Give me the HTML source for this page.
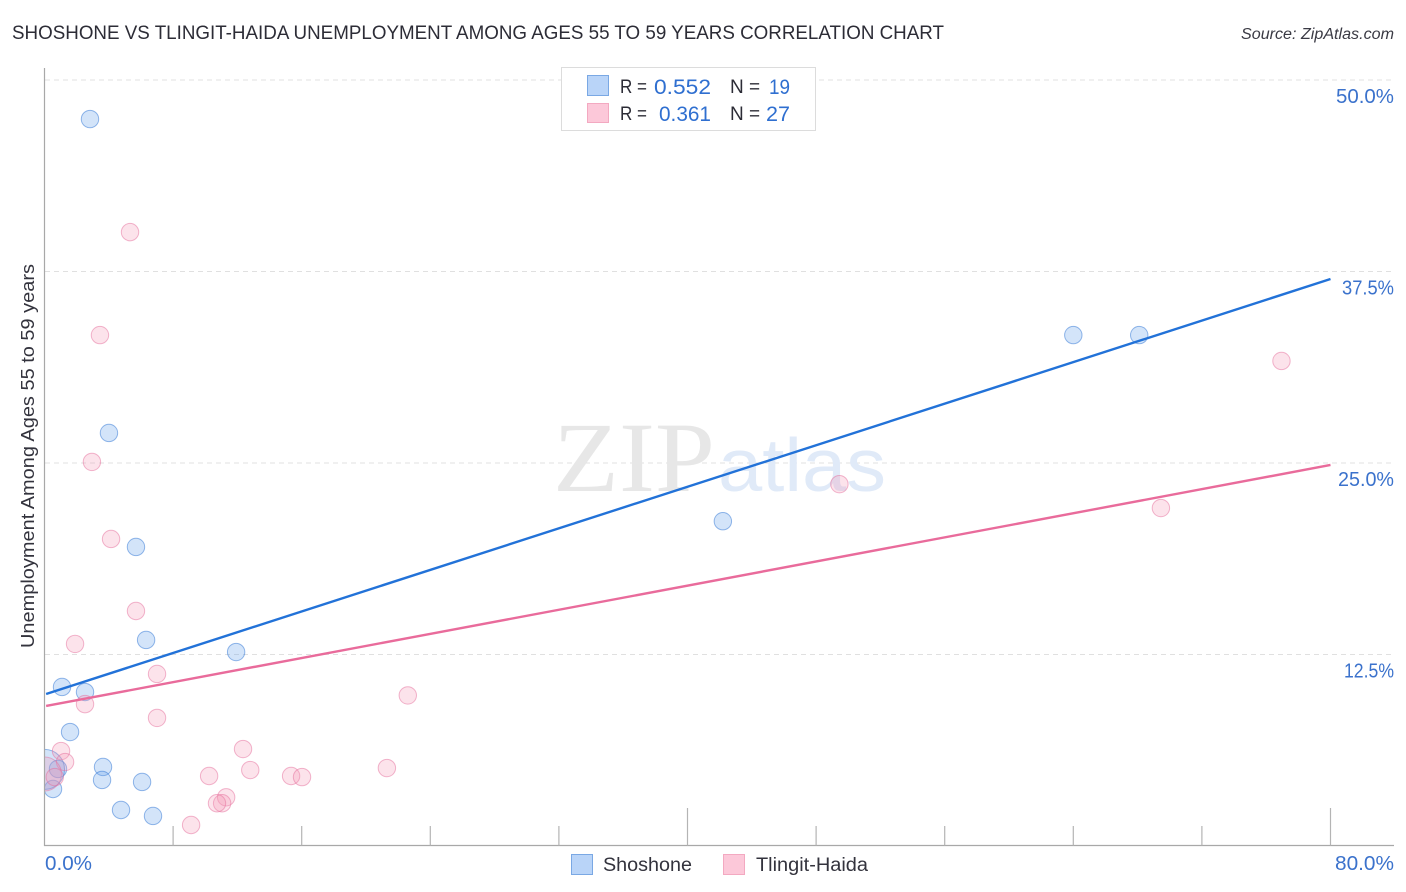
<!DOCTYPE html>
<html lang="en">
<head>
<meta charset="utf-8">
<title>Shoshone vs Tlingit-Haida Unemployment Correlation Chart</title>
<style>
html,body{margin:0;padding:0;background:#fff;}
#chart{display:block;width:1406px;height:892px;font-family:"Liberation Sans",sans-serif;}
</style>
</head>
<body>
<svg id="chart" xmlns="http://www.w3.org/2000/svg" width="1406" height="892" viewBox="0 0 1406 892">
  <rect width="1406" height="892" fill="#fff"/>
  <text x="12" y="39" font-size="19" fill="#2c2c36" textLength="932" lengthAdjust="spacingAndGlyphs">SHOSHONE VS TLINGIT-HAIDA UNEMPLOYMENT AMONG AGES 55 TO 59 YEARS CORRELATION CHART</text>
  <text x="1241" y="39" font-size="15.5" font-style="italic" fill="#3a3a44" textLength="153" lengthAdjust="spacingAndGlyphs">Source: ZipAtlas.com</text>
  <g id="grid"></g>
  <g>
    <text x="553" y="491" font-family="'Liberation Serif',serif" font-size="100" fill="#e7e7e7" textLength="162" lengthAdjust="spacingAndGlyphs">ZIP</text>
    <text x="718" y="491" font-family="'Liberation Sans',sans-serif" font-size="75" fill="#e0eaf8" textLength="168" lengthAdjust="spacingAndGlyphs">atlas</text>
  </g>
  <svg id="points" x="45" y="60" width="1349" height="785" viewBox="45 60 1349 785" overflow="hidden"></svg>
  <g id="lines"></g>
  <g id="axes"></g>
  <text transform="translate(34 456) rotate(-90)" font-size="18.5" fill="#33333d" text-anchor="middle" textLength="384" lengthAdjust="spacingAndGlyphs">Unemployment Among Ages 55 to 59 years</text>

  <g>
    <rect x="561.5" y="67.5" width="254" height="63" fill="#fff" stroke="#dcdcdc"/>
    <rect x="587.5" y="75.5" width="21" height="20" fill="#b9d4f8" stroke="#7aa8e4"/>
    <rect x="587.5" y="103.5" width="21" height="19" fill="#fcc8d9" stroke="#f3a9c1"/>
    <text x="620" y="93" font-size="19" fill="#2c2c36" textLength="27" lengthAdjust="spacingAndGlyphs">R =</text>
    <text x="654" y="94" font-size="21" fill="#2f6fd0" textLength="57" lengthAdjust="spacingAndGlyphs">0.552</text>
    <text x="730" y="93" font-size="19" fill="#2c2c36">N =</text>
    <text x="769" y="94" font-size="21" fill="#2f6fd0" textLength="21" lengthAdjust="spacingAndGlyphs">19</text>
    <text x="620" y="120" font-size="19" fill="#2c2c36" textLength="27" lengthAdjust="spacingAndGlyphs">R =</text>
    <text x="659" y="121" font-size="21" fill="#2f6fd0" textLength="52" lengthAdjust="spacingAndGlyphs">0.361</text>
    <text x="730" y="120" font-size="19" fill="#2c2c36">N =</text>
    <text x="766" y="121" font-size="21" fill="#2f6fd0" textLength="24" lengthAdjust="spacingAndGlyphs">27</text>
  </g>

  <g>
    <rect x="571.5" y="854.5" width="21" height="20" fill="#b9d4f8" stroke="#7aa8e4"/>
    <text x="603" y="871" font-size="19" fill="#33333d" textLength="89" lengthAdjust="spacingAndGlyphs">Shoshone</text>
    <rect x="723.5" y="854.5" width="21" height="20" fill="#fcc8d9" stroke="#f3a9c1"/>
    <text x="756" y="871" font-size="19" fill="#33333d" textLength="112" lengthAdjust="spacingAndGlyphs">Tlingit-Haida</text>
  </g>
</svg>
<script>
// Chart data
const yTickValues = [12.5, 25, 37.5, 50];
const yTickLabels = ["12.5%", "25.0%", "37.5%", "50.0%"];
const xTickValues = [0, 8, 16, 24, 32, 40, 48, 56, 64, 72, 80];
const xEndLabels = ["0.0%", "80.0%"];

const shoshoneX = [2.83, 4.01, 5.69, 6.32, 11.92, 1.09, 2.52, 1.59, 3.64, 3.58, 6.07, 4.76, 6.75, 0.53, 0.84, 0.0, 42.2, 64.0, 68.1];
const shoshoneY = [47.45, 26.96, 19.52, 13.45, 12.66, 10.38, 10.05, 7.44, 5.16, 4.31, 4.18, 2.35, 1.96, 3.72, 5.03, 5.0, 21.2, 33.35, 33.35];
const shoshoneWeight = [1, 1, 1, 1, 1, 1, 1, 1, 1, 1, 1, 1, 1, 1, 1, 5.3, 1, 1, 1];

const tlingitX = [5.32, 3.45, 2.95, 4.14, 5.69, 1.90, 7.00, 2.52, 7.00, 1.03, 1.28, 22.6, 12.35, 10.24, 12.8, 15.34, 16.02, 21.3, 11.3, 11.05, 10.73, 9.12, 49.45, 69.45, 76.95, 0.0, 0.64];
const tlingitY = [40.07, 33.35, 25.07, 20.04, 15.34, 13.19, 11.23, 9.26, 8.36, 6.2, 5.48, 9.83, 6.33, 4.57, 4.96, 4.57, 4.5, 5.09, 3.18, 2.79, 2.79, 1.37, 23.62, 22.06, 31.66, 4.7, 4.5];
const tlingitWeight = [1, 1, 1, 1, 1, 1, 1, 1, 1, 1, 1, 1, 1, 1, 1, 1, 1, 1, 1, 1, 1, 1, 1, 1, 1, 3.8, 1];

const shoshoneTrendX = [0.1, 80];
const shoshoneTrendY = [9.92, 37.01];
const tlingitTrendX = [0.1, 80];
const tlingitTrendY = [9.14, 24.87];

// Axis functions
const NS = "http://www.w3.org/2000/svg";
function xScale(v) { return 44.5 + v * (1330.5 - 44.5) / 80; }
function yScale(v) { return 846 - v * (846 - 80) / 50; }
function radius(w) { return 8.7 * Math.sqrt(w); }
function make(tag, parent, attrs) {
  const el = document.createElementNS(NS, tag);
  for (const k in attrs) el.setAttribute(k, attrs[k]);
  parent.appendChild(el);
  return el;
}
// The reference tick font is wider than Liberation Sans, so labels are fitted per glyph.
function labelWidth(text) {
  const advance = { "0": 13, "1": 7, "2": 11, "3": 10.5, "5": 11, "7": 9.5, "8": 12, ".": 4, "%": 17 };
  let total = 0;
  for (const ch of text) total += advance[ch];
  return total;
}

// Grid lines and y tick labels
const gridG = document.getElementById("grid");
yTickValues.forEach(function (v, i) {
  const line = make("line", gridG, { x1: 45, x2: 1394, y1: yScale(v), y2: yScale(v), stroke: "#e0e0e0", "stroke-width": 1, "stroke-dasharray": "5 4" });
  
  
  const width = labelWidth(yTickLabels[i]);
  const label = make("text", gridG, { x: 1394 - width, y: yScale(v) + 23, "font-size": 20, fill: "#3b72cc", textLength: width, lengthAdjust: "spacingAndGlyphs" });
  label.textContent = yTickLabels[i];
  
  
});

// Scatter points
const pointsG = document.getElementById("points");
function drawPoints(xs, ys, ws, fill, stroke, name) {
  xs.forEach(function (x, i) {
    const c = make("circle", pointsG, { cx: xScale(x), cy: yScale(ys[i]), r: radius(ws[i]), fill: fill, stroke: stroke, "stroke-width": 1 });
    
    
  });
}
drawPoints(shoshoneX, shoshoneY, shoshoneWeight, "rgba(110,165,235,0.3)", "rgba(60,125,215,0.55)", "shoshone-point");
drawPoints(tlingitX, tlingitY, tlingitWeight, "rgba(245,150,180,0.27)", "rgba(230,110,155,0.5)", "tlingit-haida-point");

// Trend lines
const linesG = document.getElementById("lines");
const blueLine = make("line", linesG, { x1: xScale(shoshoneTrendX[0]), y1: yScale(shoshoneTrendY[0]), x2: xScale(shoshoneTrendX[1]), y2: yScale(shoshoneTrendY[1]), stroke: "#2272d8", "stroke-width": 2.4 });


const pinkLine = make("line", linesG, { x1: xScale(tlingitTrendX[0]), y1: yScale(tlingitTrendY[0]), x2: xScale(tlingitTrendX[1]), y2: yScale(tlingitTrendY[1]), stroke: "#e96b9b", "stroke-width": 2.4 });



// Axes
const axesG = document.getElementById("axes");
const yAxis = make("line", axesG, { x1: 44.5, x2: 44.5, y1: 68, y2: 846, stroke: "#a8a8a8", "stroke-width": 1.2 });


const xAxis = make("line", axesG, { x1: 44, x2: 1394, y1: 845.5, y2: 845.5, stroke: "#a8a8a8", "stroke-width": 1.2 });


xTickValues.forEach(function (v, i) {
  if (i === 0) return;
  const top = (i % 5 === 0) ? 808 : 826;
  const tick = make("line", axesG, { x1: xScale(v), x2: xScale(v), y1: top, y2: 845.5, stroke: "#b4b4b4", "stroke-width": 1.2 });
  
  
});
const startWidth = labelWidth(xEndLabels[0]);
const xLabelStart = make("text", axesG, { x: 45, y: 870, "font-size": 20, fill: "#3b72cc", textLength: startWidth, lengthAdjust: "spacingAndGlyphs" });
xLabelStart.textContent = xEndLabels[0];


const endWidth = labelWidth(xEndLabels[1]);
const xLabelEnd = make("text", axesG, { x: 1394 - endWidth, y: 870, "font-size": 20, fill: "#3b72cc", textLength: endWidth, lengthAdjust: "spacingAndGlyphs" });
xLabelEnd.textContent = xEndLabels[1];


</script>
</body>
</html>
